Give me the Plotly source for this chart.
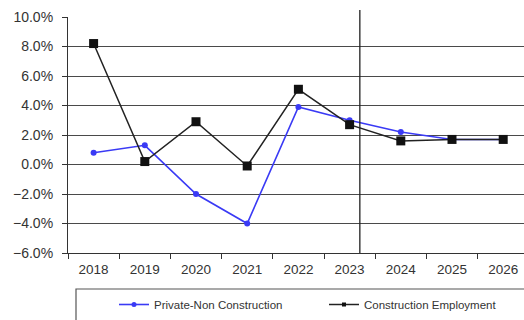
import plotly.graph_objects as go

years = ["2018", "2019", "2020", "2021", "2022", "2023", "2024", "2025", "2026"]
private_non_construction = [0.8, 1.3, -2.0, -4.0, 3.9, 3.0, 2.2, 1.7, 1.7]
construction_employment = [8.2, 0.2, 2.9, -0.1, 5.1, 2.7, 1.6, 1.7, 1.7]

W, H = 524, 320
L, R, T, B = 68, 0, 17, 67
pw, ph = W - L - R, H - T - B

def px_x(p):
    return (p - L) / pw

def px_y(p):
    return (H - B - p) / ph

BLUE = "#3a3af5"
BLACK = "#222222"

fig = go.Figure()
fig.add_trace(go.Scatter(
    x=years, y=private_non_construction, name="Private-Non Construction",
    mode="lines+markers", line=dict(color=BLUE, width=1.6),
    marker=dict(symbol="circle", size=6, color=BLUE), showlegend=False,
))
fig.add_trace(go.Scatter(
    x=years, y=construction_employment, name="Construction Employment",
    mode="lines+markers", line=dict(color=BLACK, width=1.5),
    marker=dict(symbol="square", size=9, color="#111111"), showlegend=False,
))
# legend entries (small markers as in the original legend)
fig.add_trace(go.Scatter(
    x=[None], y=[None], name="Private-Non Construction", mode="lines+markers",
    line=dict(color=BLUE, width=1.6), marker=dict(symbol="circle", size=5, color=BLUE),
))
fig.add_trace(go.Scatter(
    x=[None], y=[None], name="Construction Employment", mode="lines+markers",
    line=dict(color=BLACK, width=1.5), marker=dict(symbol="square", size=4, color="#111111"),
))

xr = [-0.5, -0.5 + pw / 51.2]
vline_x = (5.2 - xr[0]) / (xr[1] - xr[0])

fig.update_layout(
    width=W, height=H,
    margin=dict(l=L, r=R, t=T, b=B, autoexpand=False),
    paper_bgcolor="white", plot_bgcolor="white",
    font=dict(family="Liberation Sans, Arial, sans-serif", color="#333333"),
    showlegend=True,
    legend=dict(orientation="h", x=px_x(114), y=px_y(290), xanchor="left", yanchor="top",
                font=dict(size=11.5, color="#333333"), entrywidth=165,
                bgcolor="rgba(0,0,0,0)", borderwidth=0),
    xaxis=dict(type="category", categoryarray=years, categoryorder="array",
               range=xr, tickson="boundaries", ticks="outside",
               ticklen=5, tickcolor="#333333", showline=True, linecolor="#333333",
               linewidth=1.2, showgrid=False, tickfont=dict(size=13.5, color="#333333"),
               ticklabelstandoff=4, fixedrange=True),
    yaxis=dict(range=[-6, 10], dtick=2, tick0=0, tickformat=".1f", ticksuffix="%",
               ticks="outside", ticklen=5, tickcolor="#333333", showline=True,
               linecolor="#333333", linewidth=1.2, showgrid=True, gridcolor="#4a4a4a",
               gridwidth=1.1, zeroline=False, tickfont=dict(size=14, color="#333333"),
               ticklabelstandoff=6),
    shapes=[
        dict(type="line", xref="paper", yref="paper", x0=vline_x, x1=vline_x,
             y0=0, y1=px_y(10), line=dict(color="#222222", width=1.3)),
        dict(type="rect", xref="paper", yref="paper", x0=px_x(76), x1=px_x(540),
             y0=px_y(289), y1=px_y(340), line=dict(color="#555555", width=1.2)),
    ],
)

fig.write_html("out.html")
